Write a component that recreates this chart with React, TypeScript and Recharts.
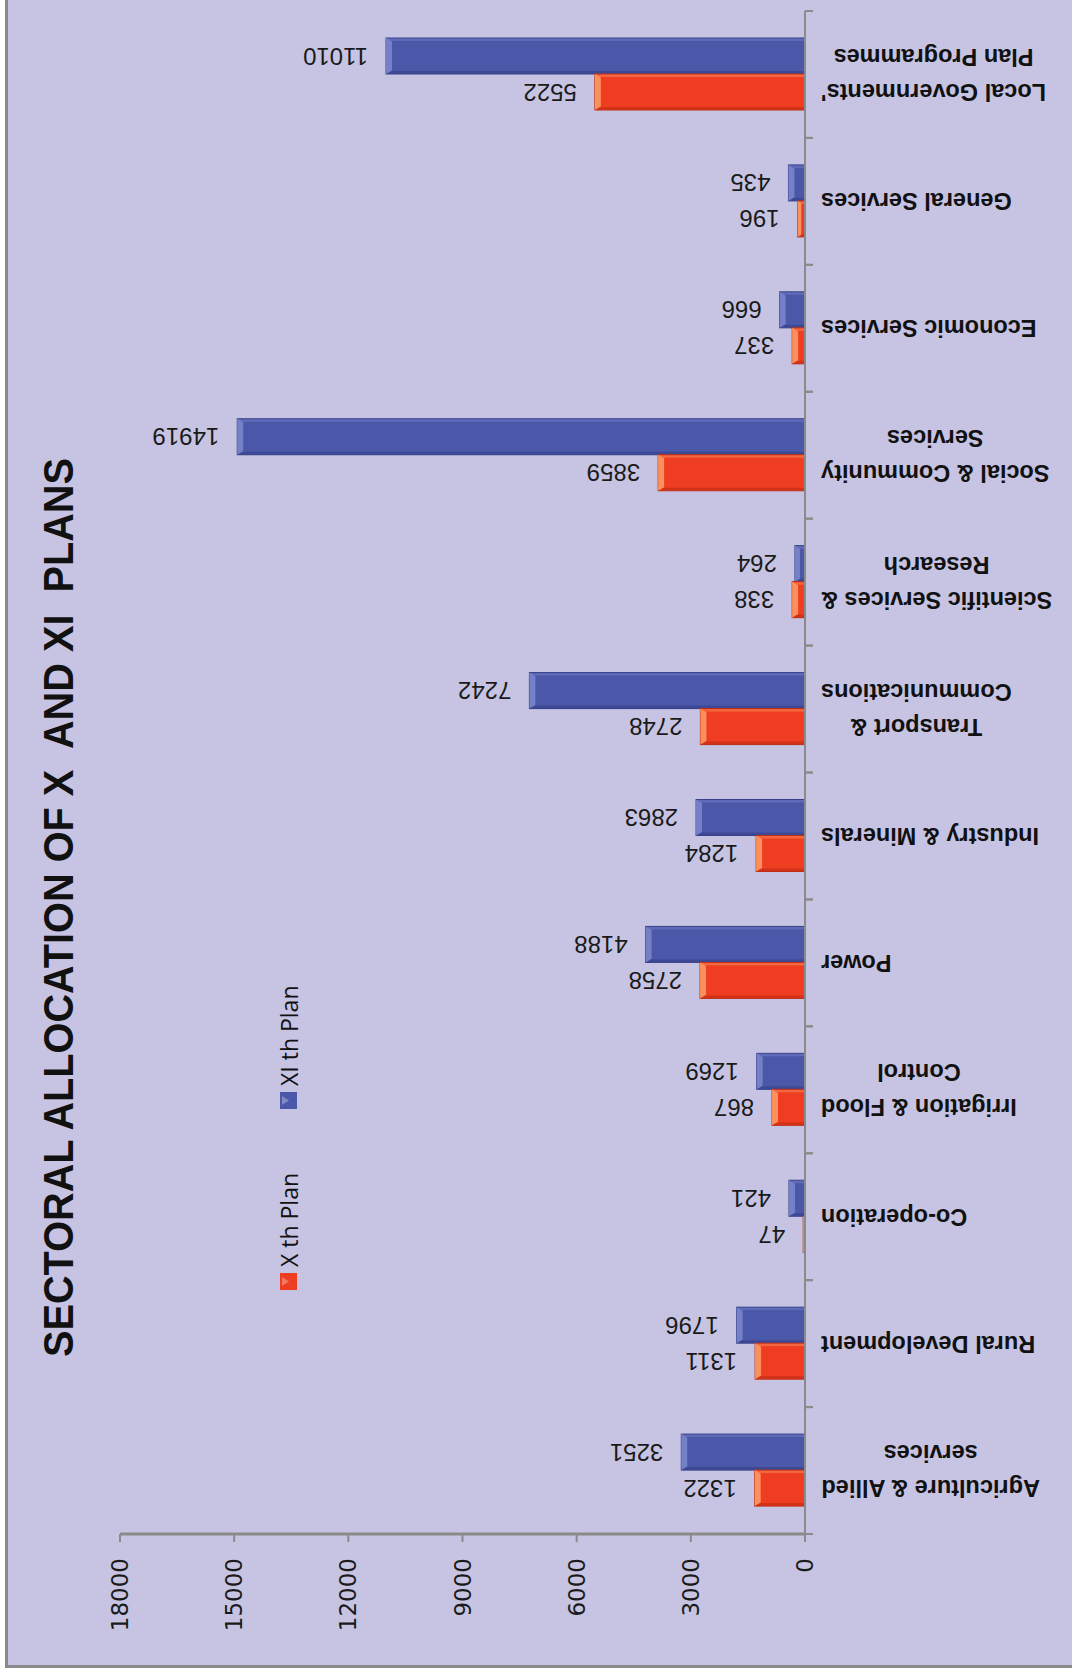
import React from "react"
import { BarChart, Bar, XAxis, YAxis, Legend, LabelList } from "recharts"

const categories = [
  "Agriculture & Allied\nservices",
  "Rural Development",
  "Co-operation",
  "Irrigation & Flood\nControl",
  "Power",
  "Industry & Minerals",
  "Transport &\nCommunications",
  "Scientific Services &\nResearch",
  "Social & Community\nServices",
  "Economic Services",
  "General Services",
  "Local Governments'\nPlan Programmes",
]
const seriesNames = ["X th Plan", "XI th Plan"]
const xthPlan = [1322, 1311, 47, 867, 2758, 1284, 2748, 338, 3859, 337, 196, 5522]
const xithPlan = [3251, 1796, 421, 1269, 4188, 2863, 7242, 264, 14919, 666, 435, 11010]
const valueTicks = [0, 3000, 6000, 9000, 12000, 15000, 18000]

const data = categories.map((name, i) => ({ name, x: xthPlan[i], xi: xithPlan[i] }))

const W = 1072
const H = 1673
const TOP = 11
const LEFT = 120
const Y_AXIS_W = 267
const X_AXIS_H = 139
const BAND = (H - TOP - X_AXIS_H) / categories.length

const AXIS = "#8a8a8a"
const BG = "#c6c4e2"
const RED = { main: "#ee3d20", light: "#f9905e", dark: "#c02c14" }
const BLUE = { main: "#4b57a8", light: "#7480c8", dark: "#363f88" }
const LABEL_FONT = "bold 23.5px 'Liberation Sans'"

const ctx = typeof document !== "undefined" ? document.createElement("canvas").getContext("2d") : null
function measure(text: string, font: string) {
  if (!ctx) return text.length * 12
  ctx.font = font
  return ctx.measureText(text).width
}

function CategoryTick(props: any) {
  const { x, y, payload } = props
  const axisX = x - 16
  const lines = String(payload.value).split("\n")
  const maxW = Math.max(...lines.map((l) => measure(l, LABEL_FONT)))
  const cx = x + maxW / 2
  const half = BAND / 2
  return (
    <g>
      <line x1={axisX} x2={axisX + 8} y1={y - half} y2={y - half} stroke={AXIS} strokeWidth={2} />
      <line x1={axisX} x2={axisX + 8} y1={y + half} y2={y + half} stroke={AXIS} strokeWidth={2} />
      {lines.map((l, i) => {
        const ly = y + ((lines.length - 1) / 2 - i) * 35
        return (
          <text
            key={i}
            x={cx}
            y={ly}
            transform={`rotate(180 ${cx} ${ly})`}
            textAnchor="middle"
            dominantBaseline="central"
            fontFamily="'Liberation Sans', Arial"
            fontWeight="bold"
            fontSize={23.5}
            fill="#111"
          >
            {l}
          </text>
        )
      })}
    </g>
  )
}

function ValueTick(props: any) {
  const { x, y, payload } = props
  return (
    <text
      x={x}
      y={y}
      transform={`rotate(-90 ${x} ${y})`}
      textAnchor="end"
      dominantBaseline="central"
      fontFamily="'DejaVu Sans', Verdana"
      fontSize={23}
      fill="#1a1a1a"
    >
      {payload.value}
    </text>
  )
}

function ValueLabel(props: any) {
  const { x, y, width, height, value } = props
  const tip = Math.min(Number(x), Number(x) + Number(width))
  const lx = tip - 18
  const ly = Number(y) + Number(height) / 2
  return (
    <text
      x={lx}
      y={ly}
      transform={`rotate(180 ${lx} ${ly})`}
      textAnchor="start"
      dominantBaseline="central"
      fontFamily="'Liberation Sans', Arial"
      fontSize={24}
      fill="#1a1a1a"
    >
      {value}
    </text>
  )
}

function BevelBar(props: any) {
  const { x, y, width, height, tone } = props
  const left = Math.min(x, x + width)
  const w = Math.abs(width)
  if (!w || !height) return null
  const b = Math.min(6, w / 2)
  return (
    <g>
      <rect x={left} y={y} width={w} height={height} fill={tone.main} stroke={tone.dark} strokeWidth={1} />
      <rect x={left} y={y + 0.5} width={w} height={2.5} fill={tone.light} opacity={0.5} />
      <rect x={left} y={y + height - 3} width={w} height={2.5} fill={tone.dark} opacity={0.6} />
      <polygon
        points={`${left},${y} ${left + b},${y + b * 0.6} ${left + b},${y + height - b * 0.6} ${left},${y + height}`}
        fill={tone.light}
      />
    </g>
  )
}

function PlanLegend(props: any) {
  const items = [...(props.payload || [])].sort(
    (a: any, b: any) => seriesNames.indexOf(a.value) - seriesNames.indexOf(b.value)
  )
  return (
    <svg width={40} height={340} style={{ overflow: "visible" }}>
      {items.map((it: any, i: number) => {
        const sy = 313 - i * 181
        const tx = 18.5
        const ty = sy - 6
        return (
          <g key={it.value}>
            <rect x={10} y={sy} width={17} height={17} fill={it.color} />
            <polygon points={`12,${sy + 4} 19,${sy + 8.5} 12,${sy + 13}`} fill="#fff" opacity={0.3} />
            <text
              x={tx}
              y={ty}
              transform={`rotate(-90 ${tx} ${ty})`}
              textAnchor="start"
              dominantBaseline="central"
              fontFamily="'Open Sans', 'Noto Sans'"
              fontSize={23}
              fill="#111"
            >
              {it.value}
            </text>
          </g>
        )
      })}
    </svg>
  )
}

export default function App() {
  return (
    <div style={{ position: "absolute", left: 0, top: 0, width: W, height: H, background: "#fff", overflow: "hidden" }}>
      <div
        style={{
          position: "absolute",
          left: 5,
          top: -10,
          width: W + 10,
          height: 1678,
          boxSizing: "border-box",
          background: BG,
          borderLeft: `3px solid ${AXIS}`,
          borderBottom: `3px solid ${AXIS}`,
        }}
      />
      <svg width={W} height={H} style={{ position: "absolute", left: 0, top: 0 }}>
        <text
          x={58}
          y={907.5}
          transform="rotate(-90 58 907.5)"
          textAnchor="middle"
          dominantBaseline="central"
          fontFamily="'Liberation Sans', Arial"
          fontWeight="bold"
          fontSize={42}
          textLength={899}
          lengthAdjust="spacingAndGlyphs"
          fill="#111"
        >
          {"SECTORAL ALLOCATION OF X\u00a0 AND XI\u00a0 PLANS"}
        </text>
      </svg>
      <div style={{ position: "absolute", left: 0, top: 0 }}>
        <BarChart
          layout="vertical"
          width={W}
          height={H}
          data={data}
          margin={{ top: TOP, right: 0, bottom: 0, left: LEFT }}
          barGap={0}
        >
          <XAxis
            type="number"
            domain={[0, 18000]}
            ticks={valueTicks}
            reversed
            height={X_AXIS_H}
            tickSize={8}
            tickMargin={16}
            interval={0}
            axisLine={{ stroke: AXIS, strokeWidth: 3 }}
            tickLine={{ stroke: AXIS, strokeWidth: 2 }}
            tick={ValueTick}
          />
          <YAxis
            type="category"
            dataKey="name"
            orientation="right"
            reversed
            width={Y_AXIS_W}
            tickSize={8}
            tickMargin={8}
            interval={0}
            tickLine={false}
            axisLine={{ stroke: AXIS, strokeWidth: 2 }}
            tick={CategoryTick}
          />
          <Legend
            layout="horizontal"
            verticalAlign="middle"
            align="center"
            content={PlanLegend}
            wrapperStyle={{ position: "absolute", left: 270, top: 960, width: 40, height: 340 }}
          />
          <Bar
            dataKey="xi"
            name={seriesNames[1]}
            fill={BLUE.main}
            barSize={36}
            isAnimationActive={false}
            shape={(p: any) => <BevelBar {...p} tone={BLUE} />}
          >
            <LabelList dataKey="xi" content={ValueLabel} />
          </Bar>
          <Bar
            dataKey="x"
            name={seriesNames[0]}
            fill={RED.main}
            barSize={36}
            isAnimationActive={false}
            shape={(p: any) => <BevelBar {...p} tone={RED} />}
          >
            <LabelList dataKey="x" content={ValueLabel} />
          </Bar>
        </BarChart>
      </div>
    </div>
  )
}
